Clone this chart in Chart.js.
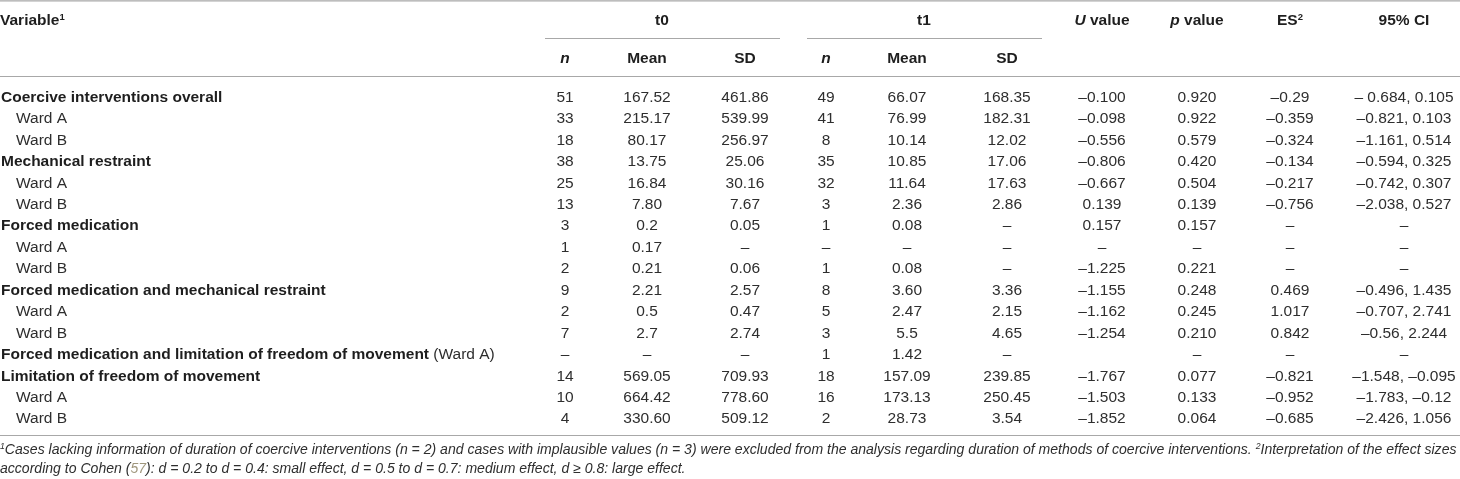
<!DOCTYPE html>
<html>
<head>
<meta charset="utf-8">
<title>Duration of coercive interventions t0 / t1</title>
<script src="https://cdn.jsdelivr.net/npm/chart.js@4"></script>
<style>
  html, body { margin: 0; padding: 0; background: #fff; }
  #wrap { width: 1460px; height: 479px; position: relative; }
</style>
</head>
<body>
<div id="wrap"><canvas id="tableChart"></canvas></div>
<script>
// row labels
var variables = [
  'Coercive interventions overall', 'Ward A', 'Ward B',
  'Mechanical restraint', 'Ward A', 'Ward B',
  'Forced medication', 'Ward A', 'Ward B',
  'Forced medication and mechanical restraint', 'Ward A', 'Ward B',
  'Forced medication and limitation of freedom of movement',
  'Limitation of freedom of movement', 'Ward A', 'Ward B'
];
var isGroup = [1, 0, 0, 1, 0, 0, 1, 0, 0, 1, 0, 0, 1, 1, 0, 0];
var labelSuffix = ['', '', '', '', '', '', '', '', '', '', '', '', ' (Ward A)', '', '', ''];

// t0
var t0N    = ['51', '33', '18', '38', '25', '13', '3', '1', '2', '9', '2', '7', '–', '14', '10', '4'];
var t0Mean = ['167.52', '215.17', '80.17', '13.75', '16.84', '7.80', '0.2', '0.17', '0.21', '2.21', '0.5', '2.7', '–', '569.05', '664.42', '330.60'];
var t0SD   = ['461.86', '539.99', '256.97', '25.06', '30.16', '7.67', '0.05', '–', '0.06', '2.57', '0.47', '2.74', '–', '709.93', '778.60', '509.12'];
// t1
var t1N    = ['49', '41', '8', '35', '32', '3', '1', '–', '1', '8', '5', '3', '1', '18', '16', '2'];
var t1Mean = ['66.07', '76.99', '10.14', '10.85', '11.64', '2.36', '0.08', '–', '0.08', '3.60', '2.47', '5.5', '1.42', '157.09', '173.13', '28.73'];
var t1SD   = ['168.35', '182.31', '12.02', '17.06', '17.63', '2.86', '–', '–', '–', '3.36', '2.15', '4.65', '–', '239.85', '250.45', '3.54'];
// tests
var uValue = ['–0.100', '–0.098', '–0.556', '–0.806', '–0.667', '0.139', '0.157', '–', '–1.225', '–1.155', '–1.162', '–1.254', '', '–1.767', '–1.503', '–1.852'];
var pValue = ['0.920', '0.922', '0.579', '0.420', '0.504', '0.139', '0.157', '–', '0.221', '0.248', '0.245', '0.210', '–', '0.077', '0.133', '0.064'];
var effectSize = ['–0.29', '–0.359', '–0.324', '–0.134', '–0.217', '–0.756', '–', '–', '–', '0.469', '1.017', '0.842', '–', '–0.821', '–0.952', '–0.685'];
var ci95 = ['– 0.684, 0.105', '–0.821, 0.103', '–1.161, 0.514', '–0.594, 0.325', '–0.742, 0.307', '–2.038, 0.527', '–', '–', '–', '–0.496, 1.435', '–0.707, 2.741', '–0.56, 2.244', '–', '–1.548, –0.095', '–1.783, –0.12', '–2.426, 1.056'];

var columns = [t0N, t0Mean, t0SD, t1N, t1Mean, t1SD, uValue, pValue, effectSize, ci95];

// layout (pixels)
var colX = [565, 647, 745, 826, 907, 1007, 1102, 1197, 1290, 1404];
var W = 1460, H = 479;
var firstRowY = 101.7, rowStep = 21.45;
var lineColor = '#a8a8a8';
var textColor = '#2e2e2e';
var headColor = '#1e1e1e';
var FONT = '"Liberation Sans", Arial, Helvetica, sans-serif';

function font(style, size) {
  return style + ' ' + size + 'px ' + FONT;
}

// draw a list of pieces {t, f, sup, color} centered / left at x
function drawPieces(ctx, pieces, x, y, align) {
  var widths = pieces.map(function (p) { ctx.font = p.f; return ctx.measureText(p.t).width; });
  var total = widths.reduce(function (a, b) { return a + b; }, 0);
  var cx = align === 'center' ? x - total / 2 : x;
  ctx.textAlign = 'left';
  pieces.forEach(function (p, i) {
    ctx.font = p.f;
    ctx.fillStyle = p.color || ctx.fillStyle;
    ctx.fillText(p.t, cx, y - (p.sup ? 5 : 0));
    cx += widths[i];
  });
  return total;
}

var tablePlugin = {
  id: 'tableText',
  afterDatasetsDraw: function (chart) {
    var ctx = chart.ctx;
    var xs = chart.scales.x, ys = chart.scales.y;
    var px = function (v) { return xs.getPixelForValue(v); };
    ctx.save();
    ctx.textBaseline = 'alphabetic';

    // rules
    ctx.strokeStyle = lineColor;
    ctx.lineWidth = 1.2;
    ctx.beginPath();
    ctx.moveTo(0, 0.8); ctx.lineTo(W, 0.8);
    ctx.moveTo(0, 76.5); ctx.lineTo(W, 76.5);
    ctx.moveTo(0, 435.5); ctx.lineTo(W, 435.5);
    ctx.moveTo(545, 38.5); ctx.lineTo(780, 38.5);
    ctx.moveTo(807, 38.5); ctx.lineTo(1042, 38.5);
    ctx.stroke();

    // header
    var hb = font('bold', 15.5), hbi = font('italic bold', 15.5), hs = font('bold', 9.5);
    ctx.fillStyle = headColor;
    drawPieces(ctx, [{ t: 'Variable', f: hb }, { t: '1', f: hs, sup: true }], 0, 25, 'left');
    drawPieces(ctx, [{ t: 't0', f: hb }], 662, 25, 'center');
    drawPieces(ctx, [{ t: 't1', f: hb }], 924, 25, 'center');
    drawPieces(ctx, [{ t: 'U', f: hbi }, { t: ' value', f: hb }], px(colX[6]), 25, 'center');
    drawPieces(ctx, [{ t: 'p', f: hbi }, { t: ' value', f: hb }], px(colX[7]), 25, 'center');
    drawPieces(ctx, [{ t: 'ES', f: hb }, { t: '2', f: hs, sup: true }], px(colX[8]), 25, 'center');
    drawPieces(ctx, [{ t: '95% CI', f: hb }], px(colX[9]), 25, 'center');
    var sub = ['n', 'Mean', 'SD', 'n', 'Mean', 'SD'];
    sub.forEach(function (s, i) {
      drawPieces(ctx, [{ t: s, f: s === 'n' ? hbi : hb }], px(colX[i]), 63, 'center');
    });

    // variable column
    ctx.fillStyle = textColor;
    variables.forEach(function (v, i) {
      var y = ys.getPixelForValue(i);
      if (isGroup[i]) {
        var pieces = [{ t: v, f: font('bold', 15.5), color: headColor }];
        if (labelSuffix[i]) pieces.push({ t: labelSuffix[i], f: font('normal', 15.5), color: textColor });
        drawPieces(ctx, pieces, px(1), y, 'left');
      } else {
        drawPieces(ctx, [{ t: v, f: font('normal', 15.5), color: textColor }], px(16), y, 'left');
      }
    });

    // value cells at the dataset points
    ctx.fillStyle = textColor;
    ctx.font = font('normal', 15.5);
    ctx.textAlign = 'center';
    chart.data.datasets.forEach(function (ds, di) {
      var meta = chart.getDatasetMeta(di);
      meta.data.forEach(function (pt, j) {
        var t = ds.cells[j];
        if (t) ctx.fillText(t, pt.x, pt.y);
      });
    });

    // footnote
    var size = 14;
    ctx.font = font('italic', size);
    var l1a = 'Cases lacking information of duration of coercive interventions (n = 2) and cases with implausible values (n = 3) were excluded from the analysis regarding duration of methods of coercive interventions. ';
    var l1b = 'Interpretation of the effect sizes';
    var wTest = ctx.measureText(l1a + l1b).width;
    size = size * 1448 / wTest;
    var fi = font('italic', size), fs = font('italic', size * 0.62);
    ctx.fillStyle = textColor;
    drawPieces(ctx, [
      { t: '1', f: fs, sup: true, color: textColor },
      { t: l1a, f: fi, color: textColor },
      { t: '2', f: fs, sup: true, color: textColor },
      { t: l1b, f: fi, color: textColor }
    ], 0, 454, 'left');
    drawPieces(ctx, [
      { t: 'according to Cohen (', f: fi, color: textColor },
      { t: '57', f: fi, color: '#a0977d' },
      { t: '): d = 0.2 to d = 0.4: small effect, d = 0.5 to d = 0.7: medium effect, d ≥ 0.8: large effect.', f: fi, color: textColor }
    ], 0, 473, 'left');

    ctx.restore();
  }
};

var datasets = columns.map(function (col, k) {
  return {
    data: col.map(function (_, i) { return { x: colX[k], y: i }; }),
    cells: col,
    pointRadius: 0,
    pointHoverRadius: 0,
    showLine: false
  };
});

var lastRow = variables.length - 1;
new Chart(document.getElementById('tableChart'), {
  type: 'scatter',
  data: { datasets: datasets },
  options: {
    responsive: true,
    maintainAspectRatio: false,
    animation: false,
    events: [],
    layout: { padding: { top: firstRowY, bottom: H - (firstRowY + lastRow * rowStep), left: 0, right: 0 } },
    scales: {
      x: { type: 'linear', min: 0, max: W, display: false },
      y: { type: 'linear', min: 0, max: lastRow, reverse: true, display: false }
    },
    plugins: { legend: { display: false }, tooltip: { enabled: false } }
  },
  plugins: [tablePlugin]
});
</script>
</body>
</html>
